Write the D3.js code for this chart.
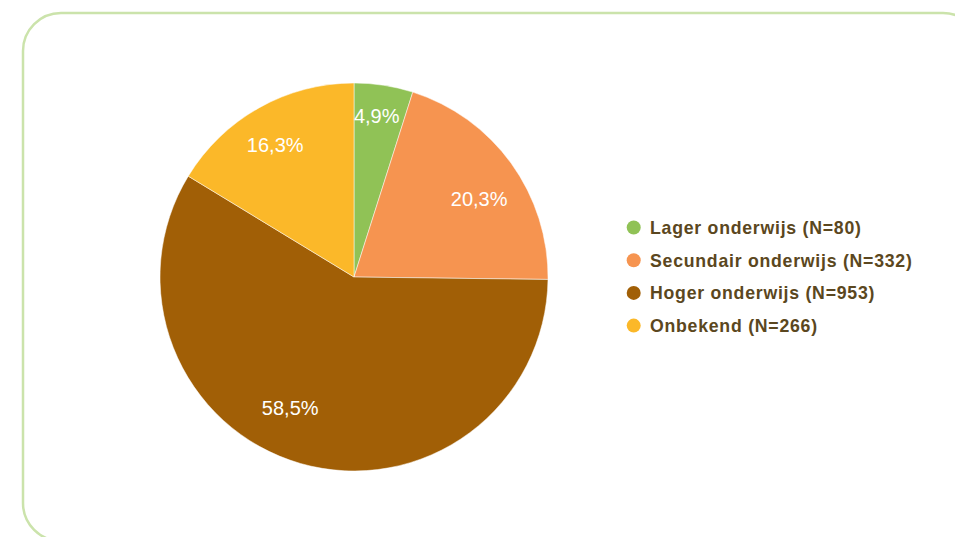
<!DOCTYPE html>
<html>
<head>
<meta charset="utf-8">
<script src="https://cdn.jsdelivr.net/npm/d3@7"></script>
<style>
  html, body { margin: 0; padding: 0; background: #ffffff; }
  svg { display: block; }
</style>
</head>
<body>
<svg id="chart" width="955" height="537"></svg>
<script>
const categories = ["Lager onderwijs", "Secundair onderwijs", "Hoger onderwijs", "Onbekend"];
const counts = [80, 332, 953, 266];
const percents = [4.9, 20.3, 58.5, 16.3];
const percentLabels = ["4,9%", "20,3%", "58,5%", "16,3%"];
const colors = ["#90c256", "#f69450", "#a15f06", "#fbb829"];

// label nudges (layout only), in px relative to the arc centroid
const labelNudge = [[-0.3, -13], [3.5, 9.3], [-22.4, -13.7], [-5.3, -1.4]];

const svg = d3.select("#chart");

// rounded frame
svg.append("rect")
  .attr("x", 23).attr("y", 13)
  .attr("width", 958).attr("height", 528)
  .attr("rx", 38).attr("ry", 38)
  .attr("fill", "none")
  .attr("stroke", "#cbe3ab")
  .attr("stroke-width", 2.5);

const cx = 354, cy = 277, R = 194;
const data = categories.map((c, i) => ({ i, cat: c, n: counts[i], p: percents[i], label: percentLabels[i], color: colors[i] }));

const pie = d3.pie().value(d => d.p).sort(null);
const arcs = pie(data);
const arc = d3.arc().innerRadius(0).outerRadius(R);
const labelArc = d3.arc().innerRadius(150).outerRadius(150);

const g = svg.append("g").attr("transform", `translate(${cx},${cy})`);
g.selectAll("path.slice").data(arcs).enter().append("path")
  .attr("class", "slice")
  .attr("d", arc)
  .attr("fill", d => d.data.color)
  .attr("stroke", "#ffffff")
  .attr("stroke-width", 0.5);

g.selectAll("text.pl").data(arcs).enter().append("text")
  .attr("class", "pl")
  .attr("transform", d => {
    const c = labelArc.centroid(d);
    const nd = labelNudge[d.data.i];
    return `translate(${c[0] + nd[0]},${c[1] + nd[1]})`;
  })
  .attr("text-anchor", "middle")
  .attr("dy", "0.36em")
  .attr("fill", "#ffffff")
  .attr("font-family", "'Liberation Sans', Arial, Helvetica, sans-serif")
  .attr("font-size", 20)
  .text(d => d.data.label);

// legend
const lx = 633.7, ly0 = 227.5, step = 32.7;
const leg = svg.append("g");
const rows = leg.selectAll("g").data(data).enter().append("g")
  .attr("transform", (d, i) => `translate(${lx},${ly0 + i * step})`);
rows.append("circle").attr("r", 7).attr("fill", d => d.color);
rows.append("text")
  .attr("x", 16.3).attr("dy", "0.36em")
  .attr("fill", "#5b4720")
  .attr("font-family", "'Liberation Sans', Arial, Helvetica, sans-serif")
  .attr("font-size", 17.7)
  .attr("font-weight", "bold")
  .attr("letter-spacing", 0.75)
  .text(d => `${d.cat} (N=${d.n})`);
</script>
</body>
</html>
